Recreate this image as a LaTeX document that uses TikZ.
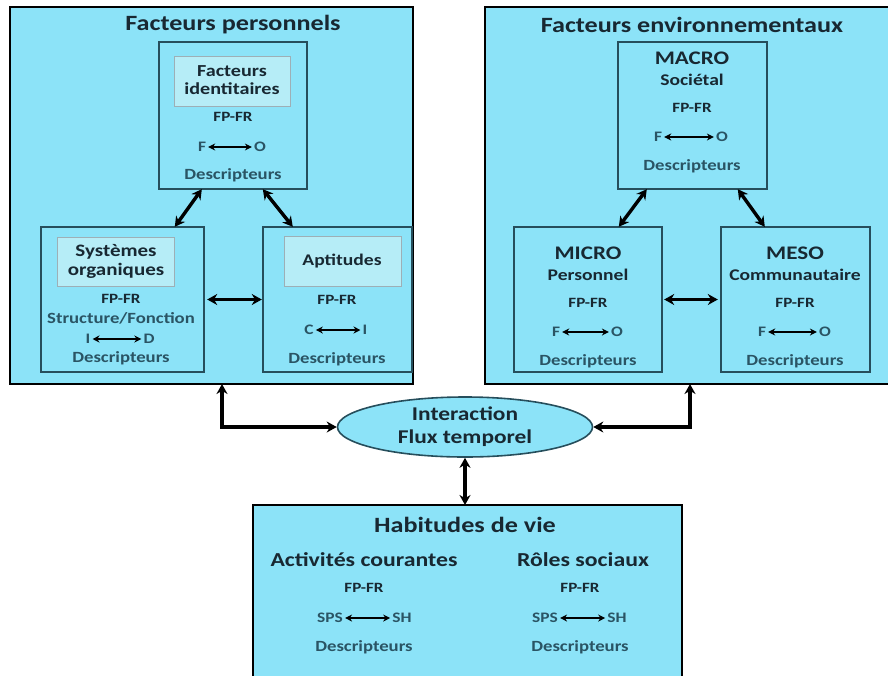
\documentclass[tikz,border=0pt]{standalone}
\usepackage{fontspec}
\setmainfont{Carlito}[FakeStretch=1.2]
\usetikzlibrary{shapes.geometric,arrows.meta}
\definecolor{cyanfill}{RGB}{140,227,248}
\definecolor{subfill}{RGB}{182,237,247}
\definecolor{boxline}{RGB}{38,78,92}
\definecolor{txtdark}{RGB}{24,40,50}
\definecolor{txtsoft}{RGB}{42,84,100}
\tikzset{
  outerbox/.style={draw=black, line width=2pt, fill=cyanfill},
  innerbox/.style={draw=boxline, line width=1.4pt, fill=cyanfill},
  subbox/.style={draw=boxline!45, line width=1pt, fill=subfill},
  ttl/.style={font=\bfseries\fontsize{21.8}{24}\selectfont, text=txtdark, inner sep=0pt},
  hd/.style={font=\bfseries\fontsize{16.3}{18}\selectfont, text=txtdark, inner sep=0pt, align=center},
  big/.style={font=\bfseries\fontsize{19.2}{21}\selectfont},
  fp/.style={font=\bfseries\fontsize{14.2}{16}\selectfont, text=txtdark, inner sep=0pt},
  desc/.style={font=\bfseries\fontsize{15.6}{17}\selectfont, text=txtsoft, inner sep=0pt},
  sm/.style={font=\bfseries\fontsize{14.5}{17}\selectfont, text=txtsoft, inner sep=0pt},
  bigarrow/.style={line width=3.4pt, black, {Stealth[length=10pt,width=11pt]}-{Stealth[length=10pt,width=11pt]}},
  smallarrow/.style={line width=1.2pt, black, {Stealth[length=7pt,width=7pt]}-{Stealth[length=7pt,width=7pt]}, shorten <=2pt, shorten >=2pt},
}
\begin{document}
\begin{tikzpicture}[x=1pt,y=-1pt]
\useasboundingbox (0,0) rectangle (888,675);
% ---------- Facteurs personnels ----------
\draw[outerbox] (10,7) rectangle (413,384);
\coordinate (LPsw) at (10,384);
\node[ttl] (LPt) at (233,25) {Facteurs personnels};

\draw[innerbox] (159,42) rectangle (307,189);
\node[inner sep=0pt, minimum width=148pt, minimum height=147pt] (TI) at (233,115.5) {};
\draw[subbox] (174,56) rectangle (290,106);
\node[hd, font=\bfseries\fontsize{16.8}{18.5}\selectfont] (TIh) at (232,80) {Facteurs\\identitaires};
\node[fp] (TIf) at (233,117) {FP-FR};
\node[sm] (TIa) at (202,147) {F};
\node[sm] (TIb) at (260,147) {O};
\draw[smallarrow] (TIa) -- (TIb);
\node[desc] (TId) at (233,175) {Descripteurs};

\draw[innerbox] (41,227) rectangle (204,372);
\node[inner sep=0pt, minimum width=163pt, minimum height=145pt] (SO) at (122.5,299.5) {};
\draw[subbox] (57,237) rectangle (174,286);
\node[hd, font=\bfseries\fontsize{17.5}{19}\selectfont] (SOh) at (116,261) {Systèmes\\organiques};
\node[fp] (SOf) at (121,299) {FP-FR};
\node[desc] (SOs) at (121,318) {Structure/Fonction};
\node[sm] (SOa) at (88,339) {I};
\node[sm] (SOb) at (149,339) {D};
\draw[smallarrow] (SOa) -- (SOb);
\node[desc] (SOd) at (121,358) {Descripteurs};

\draw[innerbox] (263,227) rectangle (412,372);
\node[inner sep=0pt, minimum width=149pt, minimum height=145pt] (AP) at (337.5,299.5) {};
\draw[subbox] (284,236) rectangle (401,286);
\node[hd] (APh) at (342,261) {Aptitudes};
\node[fp] (APf) at (337,300) {FP-FR};
\node[sm] (APa) at (309,330) {C};
\node[sm] (APb) at (365,330) {I};
\draw[smallarrow] (APa) -- (APb);
\node[desc] (APd) at (337,359) {Descripteurs};

\draw[bigarrow] ([xshift=43pt]TI.south west) -- ([xshift=134pt]SO.north west);
\draw[bigarrow] ([xshift=104pt]TI.south west) -- ([xshift=30pt]AP.north west);
\draw[bigarrow] ([xshift=3pt]SO.east) -- ([xshift=-1pt]AP.west);

% ---------- Facteurs environnementaux ----------
\draw[outerbox] (485,7) rectangle (891,384);
\coordinate (REsw) at (485,384);
\node[ttl] (REt) at (692,25) {Facteurs environnementaux};

\draw[innerbox] (618,42) rectangle (767,189);
\node[inner sep=0pt, minimum width=149pt, minimum height=147pt] (MA) at (692.5,115.5) {};
\node[hd, big] (MAh) at (692,58) {MACRO};
\node[hd] (MAs) at (692,80) {Sociétal};
\node[fp] (MAf) at (692,108) {FP-FR};
\node[sm] (MAa) at (658,137) {F};
\node[sm] (MAb) at (722,137) {O};
\draw[smallarrow] (MAa) -- (MAb);
\node[desc] (MAd) at (692,166) {Descripteurs};

\draw[innerbox] (514,227) rectangle (662,372);
\node[inner sep=0pt, minimum width=148pt, minimum height=145pt] (MI) at (588,299.5) {};
\node[hd, big] (MIh) at (588,253) {MICRO};
\node[hd] (MIs) at (588,275) {Personnel};
\node[fp] (MIf) at (588,303) {FP-FR};
\node[sm] (MIa) at (556,332) {F};
\node[sm] (MIb) at (617,332) {O};
\draw[smallarrow] (MIa) -- (MIb);
\node[desc] (MId) at (588,361) {Descripteurs};

\draw[innerbox] (721,227) rectangle (870,372);
\node[inner sep=0pt, minimum width=149pt, minimum height=145pt] (ME) at (795.5,299.5) {};
\node[hd, big] (MEh) at (795,253) {MESO};
\node[hd] (MEs) at (795,275) {Communautaire};
\node[fp] (MEf) at (795,303) {FP-FR};
\node[sm] (MEa) at (762,332) {F};
\node[sm] (MEb) at (825,332) {O};
\draw[smallarrow] (MEa) -- (MEb);
\node[desc] (MEd) at (795,361) {Descripteurs};

\draw[bigarrow] ([xshift=29pt]MA.south west) -- ([xshift=105pt]MI.north west);
\draw[bigarrow] ([xshift=120pt]MA.south west) -- ([xshift=44pt]ME.north west);
\draw[bigarrow] ([xshift=2pt]MI.east) -- ([xshift=-3pt]ME.west);

% ---------- Interaction ----------
\node[ellipse, draw=boxline, line width=1.6pt, fill=cyanfill, minimum width=255pt, minimum height=60pt, inner sep=0pt,
      font=\bfseries\fontsize{19.5}{23}\selectfont, text=txtdark, align=center] (EL) at (465,427) {Interaction\\Flux temporel};

\draw[bigarrow] ([xshift=212pt]LPsw) |- (EL.west);
\draw[bigarrow] ([xshift=205pt]REsw) |- (EL.east);

% ---------- Habitudes de vie ----------
\draw[outerbox] (253,505) rectangle (682,680);
\coordinate (HVn) at (465,505);
\draw[bigarrow] (EL.south) -- (HVn);
\node[ttl] (HVt) at (465,525) {Habitudes de vie};
\node[hd, font=\bfseries\fontsize{19.8}{21}\selectfont] (HVa) at (364,560) {Activités courantes};
\node[hd, font=\bfseries\fontsize{19.8}{21}\selectfont] (HVr) at (583,560) {Rôles sociaux};
\node[fp] (HVaf) at (364,588) {FP-FR};
\node[fp] (HVrf) at (580,588) {FP-FR};
\node[sm] (HVa1) at (330,618) {SPS};
\node[sm] (HVa2) at (402,618) {SH};
\draw[smallarrow] (HVa1) -- (HVa2);
\node[sm] (HVr1) at (545,618) {SPS};
\node[sm] (HVr2) at (617,618) {SH};
\draw[smallarrow] (HVr1) -- (HVr2);
\node[desc] (HVad) at (364,647) {Descripteurs};
\node[desc] (HVrd) at (580,647) {Descripteurs};
\end{tikzpicture}
\end{document}
